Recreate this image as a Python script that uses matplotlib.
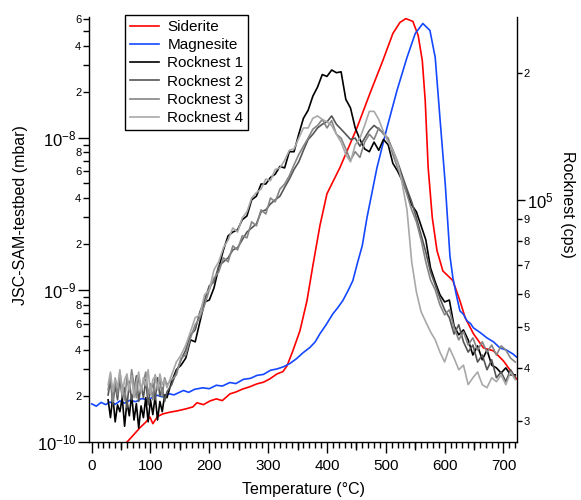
import numpy as np
import matplotlib
matplotlib.use('Agg')
import matplotlib.pyplot as plt
from matplotlib.ticker import LogLocator, FuncFormatter, MultipleLocator

plt.rcParams['font.family'] = 'Liberation Sans'
plt.rcParams['mathtext.fontset'] = 'custom'
plt.rcParams['mathtext.rm'] = 'Liberation Sans'
plt.rcParams['mathtext.it'] = 'Liberation Sans:italic'
plt.rcParams['axes.unicode_minus'] = False

# JSC-SAM-testbed references (mbar, values given in 1e-10)
sid_T = [57, 70, 82, 92, 99, 104, 112, 121, 133, 145, 160, 172, 179, 190, 201, 212, 222, 235, 245, 257,
         268, 281, 292, 303, 315, 325, 332, 342, 354, 366, 376, 388, 400, 422, 451, 473, 495, 512, 524, 534,
         546, 555, 562, 567, 572, 579, 587, 597, 614, 626, 635, 649, 666, 683, 700, 716, 722]
sid_p = [0.97, 1.10, 1.24, 1.35, 1.46, 1.32, 1.47, 1.53, 1.57, 1.60, 1.65, 1.70, 1.81, 1.76, 1.86, 1.92, 1.87, 2.07, 2.13, 2.23,
         2.30, 2.41, 2.47, 2.60, 2.80, 2.90, 3.16, 3.97, 5.37, 8.47, 14.4, 26.4, 42.8, 63.5, 116, 195, 321, 483, 571, 605,
         580, 469, 321, 175, 63.5, 29.8, 18.1, 13.3, 11.5, 8.47, 6.54, 5.14, 4.15, 3.97, 3.41, 2.80, 2.60]

mag_T = [0, 8, 16, 24, 31, 40, 48, 56, 65, 75, 85, 95, 111, 120, 130, 140, 156, 165, 175, 189,
         200, 212, 222, 235, 245, 258, 270, 281, 292, 304, 315, 326, 337, 348, 359, 371, 380, 388, 398, 410,
         418, 427, 436, 444, 452, 460, 468, 485, 502, 519, 536, 550, 563, 575, 584, 592, 601, 609, 614, 620,
         626, 632, 638, 644, 649, 660, 672, 683, 694, 705, 716, 722]
mag_p = [1.78, 1.72, 1.82, 1.76, 1.83, 1.77, 1.86, 1.80, 1.88, 1.84, 1.93, 1.89, 2.03, 1.98, 2.08, 2.04, 2.18, 2.12, 2.22, 2.27,
         2.24, 2.36, 2.33, 2.46, 2.42, 2.58, 2.62, 2.74, 2.78, 2.96, 3.02, 3.12, 3.28, 3.52, 3.85, 4.18, 4.55, 5.14, 5.85, 6.95,
         7.6, 8.5, 9.9, 11.5, 15.1, 19.5, 29.8, 63.5, 116, 204, 336, 483, 562, 506, 336, 135, 49.8, 16.7, 12.0, 9.2,
         7.27, 6.9, 6.25, 6.0, 5.62, 5.25, 4.83, 4.55, 4.15, 4.02, 3.79, 3.62]

# Rocknest runs (cps, values given in thousands)
rn_T = np.r_[np.arange(28, 129, 4), np.arange(136, 721, 8)]

rn1 = [33.6, 30.5, 34.3, 29.8, 32.7, 31.5, 34.0, 29.1, 33.3, 30.8, 34.5, 30.1, 32.9, 28.8, 32.5, 30.5, 34.0, 29.8, 33.6, 31.0,
       34.3, 30.1, 33.3, 31.5, 34.5, 34.0,
       37.1, 39.6, 40.6, 42.2, 46.6, 46.1, 51.4, 57.3, 57.9, 61.9, 69.0, 76.1, 82.2, 83.9, 84.9, 89.7, 91.6, 100, 102, 109,
       109, 113, 115, 120, 119, 130, 130, 143, 156, 163, 176, 185, 198, 196, 203, 200, 201, 173, 165, 148,
       139, 132, 130, 137, 131, 139, 135, 122, 117, 111, 104, 97.3, 93.7, 86.8, 80.4, 69.0, 63.9, 59.6, 57.3, 57.9,
       50.3, 47.9, 49.2, 46.6, 42.9, 45.1, 41.8, 44.1, 40.6, 40.0, 38.9, 40.0, 38.5, 38.5]
rn2 = [34.5, 37.5, 32.7, 36.5, 33.6, 37.9, 34.0, 35.9, 32.2, 37.1, 33.6, 35.1, 38.3, 33.3, 36.3, 34.0, 37.5, 32.7, 35.5, 36.7,
       33.6, 37.9, 34.3, 35.9, 33.3, 35.1,
       36.5, 39.1, 41.8, 44.1, 47.9, 49.2, 54.3, 57.9, 62.6, 63.9, 69.7, 71.3, 72.9, 76.1, 77.0, 80.4, 83.9, 85.8, 87.7, 93.7,
       94.7, 97.8, 100, 102, 107, 112, 118, 123, 131, 139, 143, 148, 151, 153, 158, 151, 147, 143, 139, 140,
       134, 140, 146, 150, 147, 144, 139, 131, 123, 114, 106, 98.9, 90.6, 82.6, 75.2, 67.5, 62.9, 58.5, 54.9, 52.6,
       48.1, 50.6, 46.1, 43.6, 45.3, 41.3, 42.9, 39.6, 41.8, 37.9, 39.1, 37.1, 39.6, 37.9]
rn3 = [35.5, 38.5, 33.3, 37.5, 34.5, 39.1, 35.9, 33.6, 37.9, 35.1, 39.6, 36.5, 34.0, 38.3, 35.5, 37.1, 39.1, 34.5, 36.7, 33.6,
       38.5, 35.9, 37.5, 34.3, 37.9, 36.5,
       37.5, 38.5, 42.2, 42.9, 47.1, 50.6, 52.6, 56.4, 61.2, 65.3, 67.5, 72.9, 71.3, 77.8, 76.1, 82.2, 81.3, 88.7, 86.8, 94.7,
       92.6, 101, 98.9, 106, 109, 114, 121, 128, 134, 140, 147, 150, 155, 148, 154, 143, 140, 132, 124, 130,
       126, 137, 143, 139, 148, 143, 140, 128, 119, 112, 103, 94.7, 88.7, 80.4, 71.3, 64.6, 61.2, 56.4, 53.4, 54.9,
       49.8, 46.6, 48.7, 45.3, 47.1, 44.1, 46.1, 43.6, 45.3, 42.9, 45.1, 44.1, 42.2, 41.3]
rn4 = [36.5, 39.1, 35.1, 37.9, 35.9, 39.6, 34.5, 37.5, 38.7, 35.5, 38.3, 34.0, 37.1, 39.1, 35.1, 37.9, 36.3, 39.6, 34.7, 37.5,
       38.3, 35.5, 38.7, 36.5, 37.5, 35.9,
       38.5, 41.3, 42.9, 45.3, 48.7, 52.6, 53.4, 59.6, 61.2, 68.3, 71.3, 77.0, 80.4, 85.8, 83.9, 90.6, 93.7, 101, 104, 106,
       112, 111, 118, 119, 124, 131, 132, 140, 148, 148, 156, 158, 155, 153, 150, 143, 137, 128, 123, 135,
       140, 150, 162, 162, 155, 145, 137, 131, 123, 109, 94.7, 71.3, 60.5, 54.3, 51.4, 48.7, 46.6, 43.6, 41.3, 44.6,
       42.2, 39.6, 40.6, 36.5, 37.9, 39.1, 36.5, 35.9, 37.9, 37.1, 38.5, 36.5, 39.1, 37.5]

rn_names = ['Rocknest 1', 'Rocknest 2', 'Rocknest 3', 'Rocknest 4']
rn_colors = ['#000000', '#555555', '#858585', '#a8a8a8']

rect = [89 / 581, 58 / 500, 428 / 581, 425 / 500]
fig = plt.figure(figsize=(5.81, 5.0), dpi=100)
ax = fig.add_axes(rect)
ax2 = ax.twinx()

l1, = ax.plot(sid_T, np.array(sid_p) * 1e-10, color='#ff0000', lw=1.2, label='Siderite')
l2, = ax.plot(mag_T, np.array(mag_p) * 1e-10, color='#1448ff', lw=1.2, label='Magnesite')
handles = [l1, l2]
for vals, name, c in zip([rn1, rn2, rn3, rn4], rn_names, rn_colors):
    h, = ax2.plot(rn_T, np.array(vals) * 1e3, color=c, lw=1.2, label=name)
    handles.append(h)

xlim = (-4.5, 723)
ax.set_xlim(*xlim)
ax.set_yscale('log')
ax.set_ylim(1e-10, 6.2e-8)
ax2.set_yscale('log')
ax2.set_ylim(2.67e4, 2.71e5)


def major_fmt(v, pos):
    return r'$10^{%d}$' % int(round(np.log10(v)))


def mant(v):
    e = np.floor(np.log10(v) + 1e-9)
    return int(round(v / 10 ** e))


def left_minor(v, pos):
    m = mant(v)
    return str(m) if m in (2, 4, 6, 8) else ''


def right_minor(v, pos):
    return str(mant(v))


ax.yaxis.set_major_locator(LogLocator(base=10))
ax.yaxis.set_major_formatter(FuncFormatter(major_fmt))
ax.yaxis.set_minor_locator(LogLocator(base=10, subs=np.arange(2, 10)))
ax.yaxis.set_minor_formatter(FuncFormatter(left_minor))
ax2.yaxis.set_major_locator(LogLocator(base=10))
ax2.yaxis.set_major_formatter(FuncFormatter(major_fmt))
ax2.yaxis.set_minor_locator(LogLocator(base=10, subs=np.arange(2, 10)))
ax2.yaxis.set_minor_formatter(FuncFormatter(right_minor))

ax.xaxis.set_major_locator(MultipleLocator(100))
ax.xaxis.set_minor_locator(MultipleLocator(10))

for s in ['top', 'right']:
    ax.spines[s].set_visible(False)
for s in ['top', 'left', 'bottom']:
    ax2.spines[s].set_visible(False)
for s in ['left', 'bottom']:
    ax.spines[s].set_linewidth(1.0)
ax2.spines['right'].set_linewidth(1.0)

ax.tick_params(axis='x', which='major', direction='out', length=8, width=1, labelsize=11, pad=4)
ax.tick_params(axis='x', which='minor', direction='out', length=4, width=1)
ax.tick_params(axis='y', which='major', direction='out', length=8, width=1, labelsize=12, pad=1)
ax.tick_params(axis='y', which='minor', direction='out', length=4.5, width=1, labelsize=8, pad=1)
ax2.tick_params(axis='y', which='major', direction='out', length=6, width=1, labelsize=12, pad=1)
ax2.tick_params(axis='y', which='minor', direction='out', length=3.5, width=1, labelsize=8, pad=1)

# medium ticks at the 50s, drawn on an empty overlay axes
axm = fig.add_axes(rect, frameon=False)
axm.set_xlim(*xlim)
axm.set_xticks(np.arange(50, 701, 100))
axm.set_xticklabels([])
axm.set_yticks([])
axm.tick_params(axis='x', direction='out', length=6, width=1)
axm.patch.set_visible(False)

ax.set_xlabel('Temperature (°C)', fontsize=11.5, labelpad=7)
ax.set_ylabel('JSC-SAM-testbed (mbar)', fontsize=11.5)
ax.yaxis.set_label_coords(-0.143, 0.534)
ax2.set_ylabel('Rocknest (cps)', fontsize=11.5, rotation=270)
ax2.yaxis.set_label_coords(1.136, 0.56)

leg = ax2.legend(handles, [h.get_label() for h in handles], loc='upper left',
                 bbox_to_anchor=(125 / 581, 485 / 500), bbox_transform=fig.transFigure,
                 fancybox=False, edgecolor='black', framealpha=1, fontsize=11,
                 handlelength=1.9, handletextpad=0.55, labelspacing=0.28, borderpad=0.32, borderaxespad=0)
leg.get_frame().set_linewidth(1.0)

fig.savefig('out.png', dpi=100)
